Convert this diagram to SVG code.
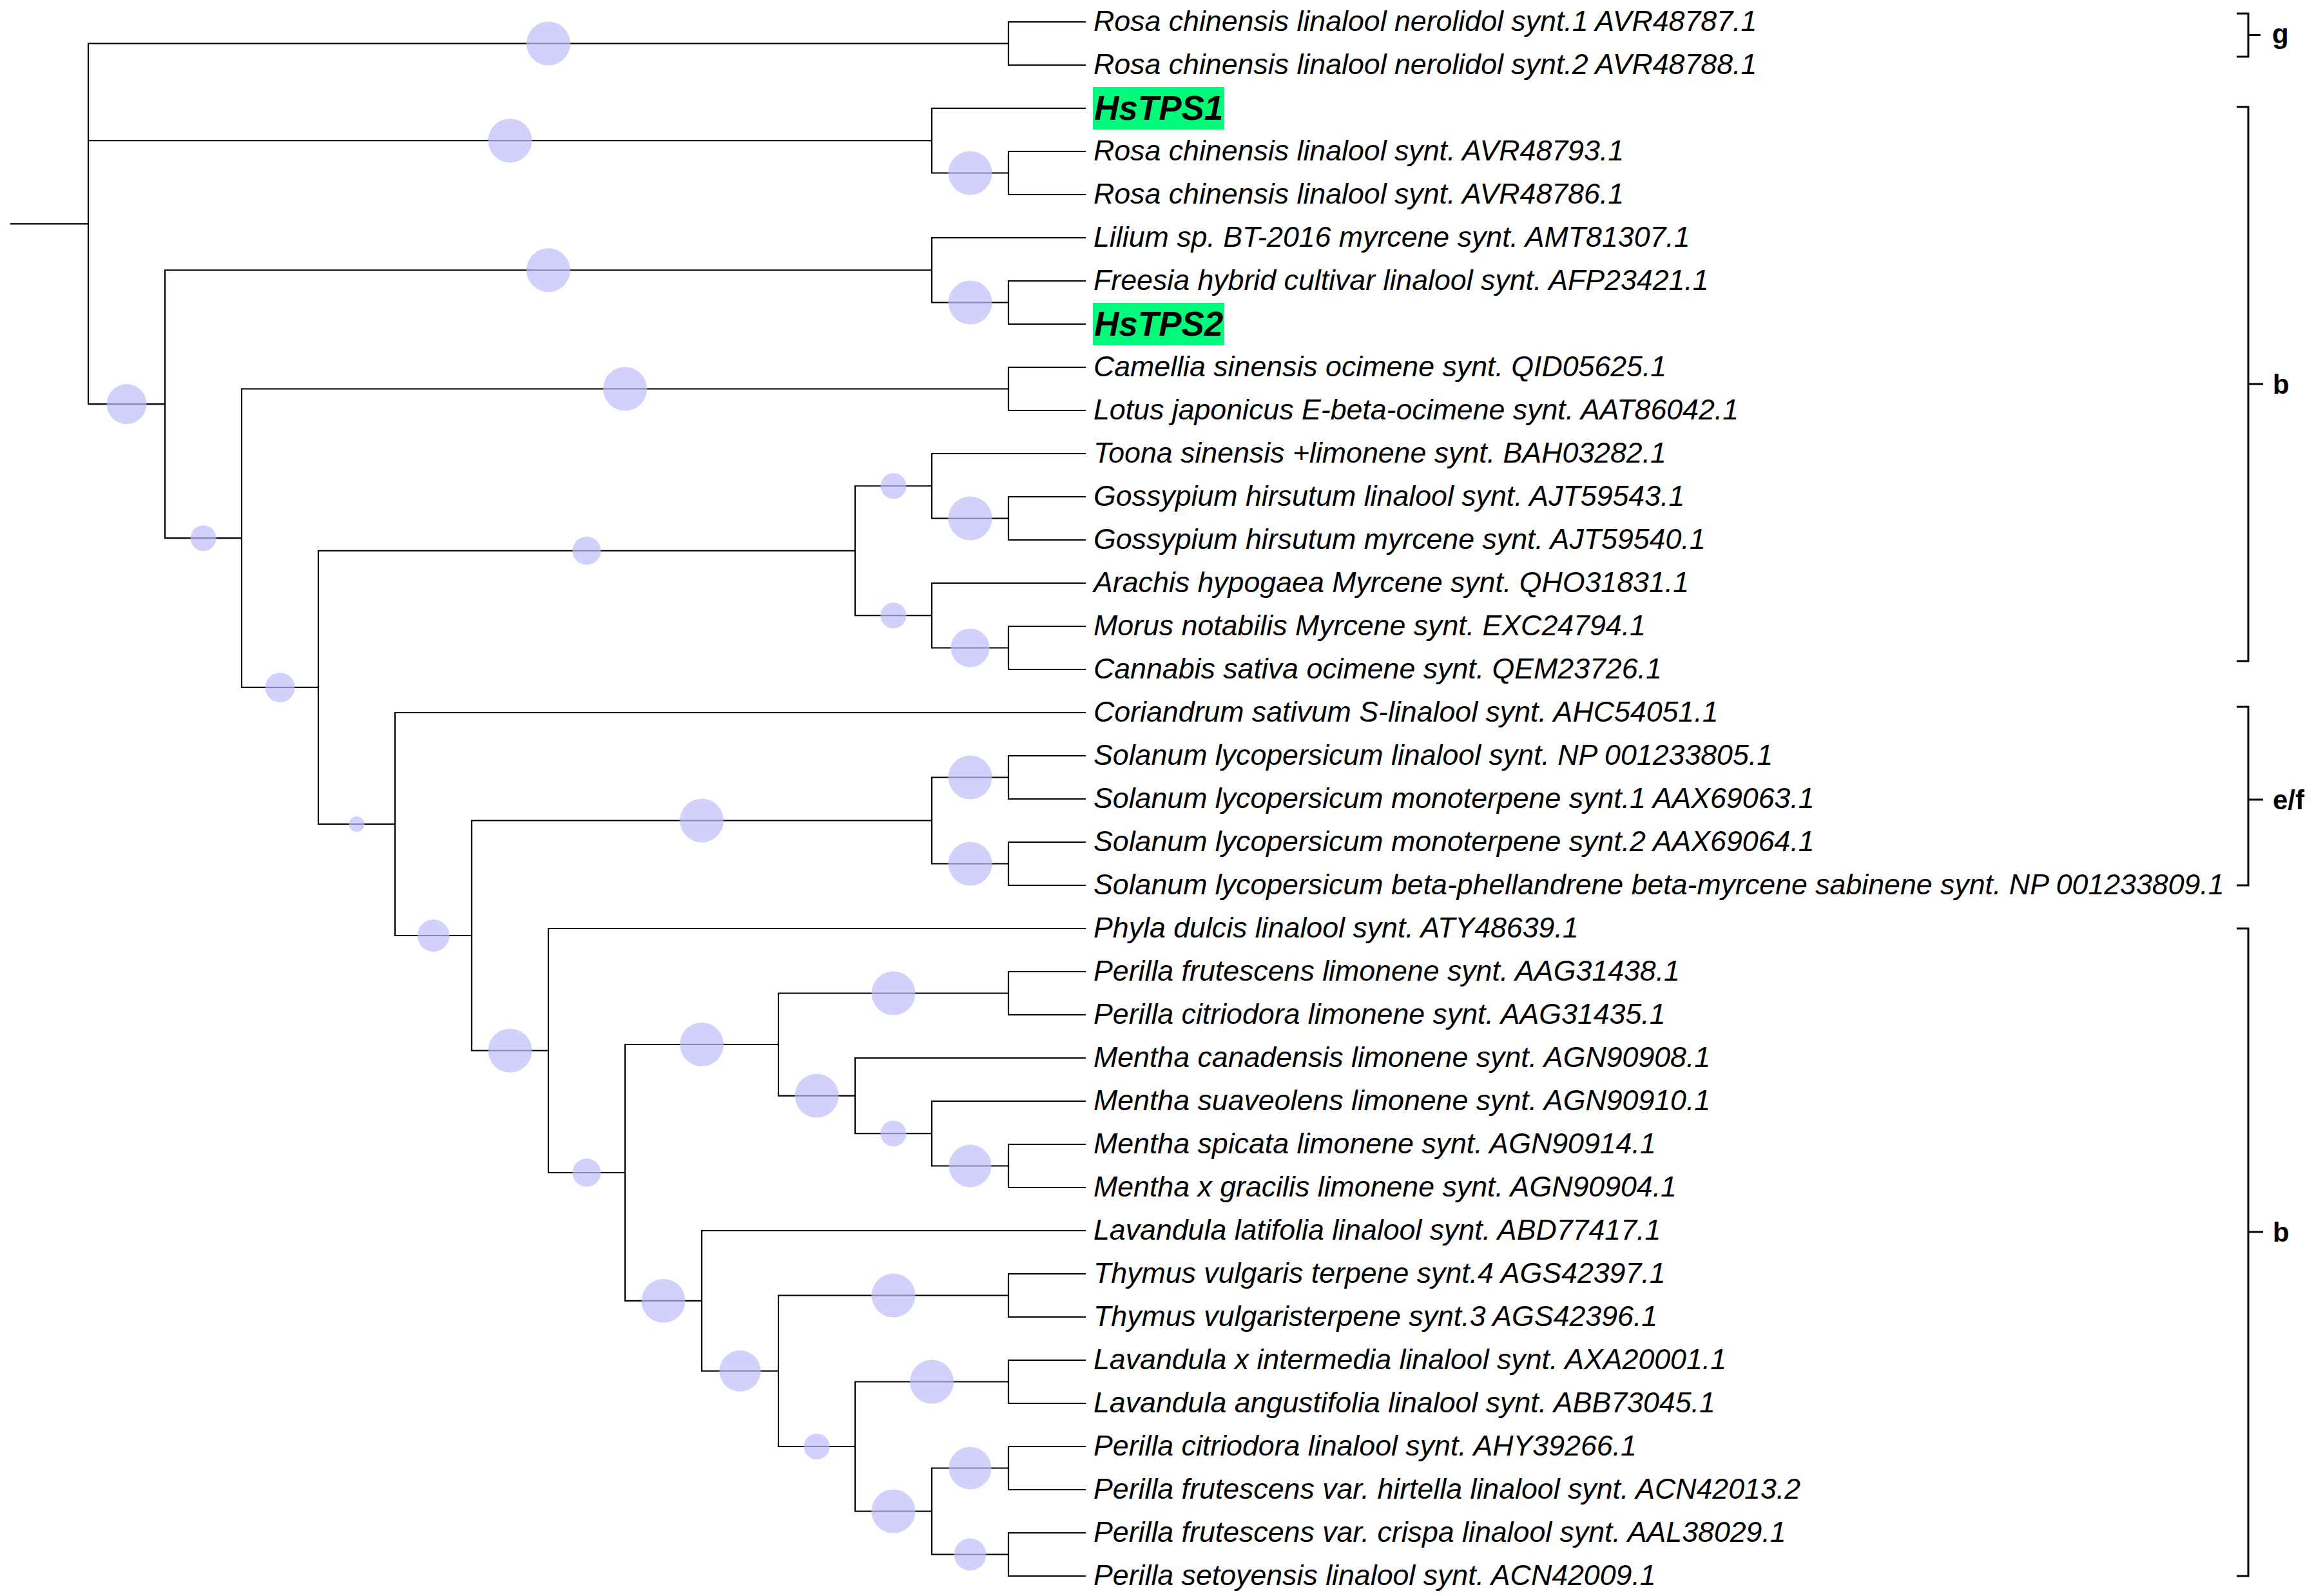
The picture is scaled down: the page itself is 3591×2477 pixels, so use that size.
<svg xmlns="http://www.w3.org/2000/svg" width="3591" height="2477" viewBox="0 0 3591 2477">
<style>
.br{fill:none;stroke:#000;stroke-width:2.2;stroke-linecap:square}
.bp{fill:#bebefa;fill-opacity:0.7;stroke:none}
.tl{font-family:"Liberation Sans",Arial,sans-serif;font-style:italic;font-size:44.7px;fill:#000}
.hs{font-family:"Liberation Sans",Arial,sans-serif;font-style:italic;font-weight:bold;font-size:53px;fill:#000}
.hb{fill:#00fa7a}
.ck{fill:none;stroke:#000;stroke-width:3}
.cl{font-family:"Liberation Sans",Arial,sans-serif;font-weight:bold;font-size:42px;fill:#000}
</style>
<rect width="3591" height="2477" fill="#fff"/>
<g id="connectors">
<path class="br" d="M17 347.35H137M137 67.5V627.2M137 67.5H1565M137 218.25H1446M137 627.2H256
M1565 34V101M1565 34H1684M1565 101H1684
M1446 168V268.5M1446 168H1684M1446 268.5H1565
M1565 235V302M1565 235H1684M1565 302H1684
M256 419.25V835.2M256 419.25H1446M256 835.2H375
M1446 369V469.5M1446 369H1684M1446 469.5H1565
M1565 436V503M1565 436H1684M1565 503H1684
M375 603.5V1066.9M375 603.5H1565M375 1066.9H494
M1565 570V637M1565 570H1684M1565 637H1684
M494 854.75V1279M494 854.75H1327M494 1279H613
M1327 754.25V955.25M1327 754.25H1446M1327 955.25H1446
M1446 704V804.5M1446 704H1684M1446 804.5H1565
M1565 771V838M1565 771H1684M1565 838H1684
M1446 905V1005.5M1446 905H1684M1446 1005.5H1565
M1565 972V1039M1565 972H1684M1565 1039H1684
M613 1106V1452M613 1106H1684M613 1452H732
M732 1273.5V1630.5M732 1273.5H1446M732 1630.5H851
M1446 1206.5V1340.5M1446 1206.5H1565M1446 1340.5H1565
M1565 1173V1240M1565 1173H1684M1565 1240H1684
M1565 1307V1374M1565 1307H1684M1565 1374H1684
M851 1441V1820M851 1441H1684M851 1820H970
M970 1621V2018.9M970 1621H1208M970 2018.9H1089
M1208 1541.5V1700.6M1208 1541.5H1565M1208 1700.6H1327
M1565 1508V1575M1565 1508H1684M1565 1575H1684
M1327 1642V1759.25M1327 1642H1684M1327 1759.25H1446
M1446 1709V1809.5M1446 1709H1684M1446 1809.5H1565
M1565 1776V1843M1565 1776H1684M1565 1843H1684
M1089 1910V2127.75M1089 1910H1684M1089 2127.75H1208
M1208 2010.5V2245M1208 2010.5H1565M1208 2245H1327
M1565 1977V2044M1565 1977H1684M1565 2044H1684
M1327 2144.5V2345.5M1327 2144.5H1565M1327 2345.5H1446
M1565 2111V2178M1565 2111H1684M1565 2178H1684
M1446 2278.5V2412.5M1446 2278.5H1565M1446 2412.5H1565
M1565 2245V2312M1565 2245H1684M1565 2312H1684
M1565 2379V2446M1565 2379H1684M1565 2446H1684"/>
</g>
<g id="node-points">
<g id="node-A"><circle class="bp" cx="851" cy="67.5" r="34"/></g>
<g id="node-B"><circle class="bp" cx="791.5" cy="218.25" r="34"/></g>
<g id="node-B34"><circle class="bp" cx="1505.5" cy="268.5" r="34"/></g>
<g id="node-C"><circle class="bp" cx="196.5" cy="627.2" r="31"/></g>
<g id="node-D"><circle class="bp" cx="851" cy="419.25" r="34"/></g>
<g id="node-D67"><circle class="bp" cx="1505.5" cy="469.5" r="34"/></g>
<g id="node-E"><circle class="bp" cx="315.5" cy="835.2" r="20"/></g>
<g id="node-F"><circle class="bp" cx="970" cy="603.5" r="34"/></g>
<g id="node-G"><circle class="bp" cx="434.5" cy="1066.9" r="23"/></g>
<g id="node-H"><circle class="bp" cx="910.5" cy="854.75" r="22"/></g>
<g id="node-H1"><circle class="bp" cx="1386.5" cy="754.25" r="20"/></g>
<g id="node-H1b"><circle class="bp" cx="1505.5" cy="804.5" r="34"/></g>
<g id="node-H2"><circle class="bp" cx="1386.5" cy="955.25" r="20"/></g>
<g id="node-H2b"><circle class="bp" cx="1505.5" cy="1005.5" r="30"/></g>
<g id="node-I"><circle class="bp" cx="553.5" cy="1279" r="12"/></g>
<g id="node-J"><circle class="bp" cx="672.5" cy="1452" r="25"/></g>
<g id="node-K"><circle class="bp" cx="1089" cy="1273.5" r="34"/></g>
<g id="node-K1"><circle class="bp" cx="1505.5" cy="1206.5" r="34"/></g>
<g id="node-K2"><circle class="bp" cx="1505.5" cy="1340.5" r="34"/></g>
<g id="node-L"><circle class="bp" cx="791.5" cy="1630.5" r="34"/></g>
<g id="node-M"><circle class="bp" cx="910.5" cy="1820" r="22"/></g>
<g id="node-N"><circle class="bp" cx="1089" cy="1621" r="34"/></g>
<g id="node-N1"><circle class="bp" cx="1386.5" cy="1541.5" r="34"/></g>
<g id="node-N2"><circle class="bp" cx="1267.5" cy="1700.6" r="34"/></g>
<g id="node-N3"><circle class="bp" cx="1386.5" cy="1759.25" r="20"/></g>
<g id="node-N4"><circle class="bp" cx="1505.5" cy="1809.5" r="33"/></g>
<g id="node-O"><circle class="bp" cx="1029.5" cy="2018.9" r="34"/></g>
<g id="node-P"><circle class="bp" cx="1148.5" cy="2127.75" r="32"/></g>
<g id="node-P1"><circle class="bp" cx="1386.5" cy="2010.5" r="34"/></g>
<g id="node-Q"><circle class="bp" cx="1267.5" cy="2245" r="20"/></g>
<g id="node-Q1"><circle class="bp" cx="1446" cy="2144.5" r="34"/></g>
<g id="node-R"><circle class="bp" cx="1386.5" cy="2345.5" r="34"/></g>
<g id="node-R1"><circle class="bp" cx="1505.5" cy="2278.5" r="33"/></g>
<g id="node-R2"><circle class="bp" cx="1505.5" cy="2412.5" r="25"/></g>
</g>
<g id="tips">
<g id="tip-0"><text class="tl" x="1697" y="48">Rosa chinensis linalool nerolidol synt.1 AVR48787.1</text></g>
<g id="tip-1"><text class="tl" x="1697" y="115">Rosa chinensis linalool nerolidol synt.2 AVR48788.1</text></g>
<g id="tip-2"><rect class="hb" x="1696" y="135" width="204" height="66"/><text class="hs" x="1698" y="186">HsTPS1</text></g>
<g id="tip-3"><text class="tl" x="1697" y="249">Rosa chinensis linalool synt. AVR48793.1</text></g>
<g id="tip-4"><text class="tl" x="1697" y="316">Rosa chinensis linalool synt. AVR48786.1</text></g>
<g id="tip-5"><text class="tl" x="1697" y="383">Lilium sp. BT-2016 myrcene synt. AMT81307.1</text></g>
<g id="tip-6"><text class="tl" x="1697" y="450">Freesia hybrid cultivar linalool synt. AFP23421.1</text></g>
<g id="tip-7"><rect class="hb" x="1696" y="470" width="204" height="66"/><text class="hs" x="1698" y="521">HsTPS2</text></g>
<g id="tip-8"><text class="tl" x="1697" y="584">Camellia sinensis ocimene synt. QID05625.1</text></g>
<g id="tip-9"><text class="tl" x="1697" y="651">Lotus japonicus E-beta-ocimene synt. AAT86042.1</text></g>
<g id="tip-10"><text class="tl" x="1697" y="718">Toona sinensis +limonene synt. BAH03282.1</text></g>
<g id="tip-11"><text class="tl" x="1697" y="785">Gossypium hirsutum linalool synt. AJT59543.1</text></g>
<g id="tip-12"><text class="tl" x="1697" y="852">Gossypium hirsutum myrcene synt. AJT59540.1</text></g>
<g id="tip-13"><text class="tl" x="1697" y="919">Arachis hypogaea Myrcene synt. QHO31831.1</text></g>
<g id="tip-14"><text class="tl" x="1697" y="986">Morus notabilis Myrcene synt. EXC24794.1</text></g>
<g id="tip-15"><text class="tl" x="1697" y="1053">Cannabis sativa ocimene synt. QEM23726.1</text></g>
<g id="tip-16"><text class="tl" x="1697" y="1120">Coriandrum sativum S-linalool synt. AHC54051.1</text></g>
<g id="tip-17"><text class="tl" x="1697" y="1187">Solanum lycopersicum linalool synt. NP 001233805.1</text></g>
<g id="tip-18"><text class="tl" x="1697" y="1254">Solanum lycopersicum monoterpene synt.1 AAX69063.1</text></g>
<g id="tip-19"><text class="tl" x="1697" y="1321">Solanum lycopersicum monoterpene synt.2 AAX69064.1</text></g>
<g id="tip-20"><text class="tl" x="1697" y="1388">Solanum lycopersicum beta-phellandrene beta-myrcene sabinene synt. NP 001233809.1</text></g>
<g id="tip-21"><text class="tl" x="1697" y="1455">Phyla dulcis linalool synt. ATY48639.1</text></g>
<g id="tip-22"><text class="tl" x="1697" y="1522">Perilla frutescens limonene synt. AAG31438.1</text></g>
<g id="tip-23"><text class="tl" x="1697" y="1589">Perilla citriodora limonene synt. AAG31435.1</text></g>
<g id="tip-24"><text class="tl" x="1697" y="1656">Mentha canadensis limonene synt. AGN90908.1</text></g>
<g id="tip-25"><text class="tl" x="1697" y="1723">Mentha suaveolens limonene synt. AGN90910.1</text></g>
<g id="tip-26"><text class="tl" x="1697" y="1790">Mentha spicata limonene synt. AGN90914.1</text></g>
<g id="tip-27"><text class="tl" x="1697" y="1857">Mentha x gracilis limonene synt. AGN90904.1</text></g>
<g id="tip-28"><text class="tl" x="1697" y="1924">Lavandula latifolia linalool synt. ABD77417.1</text></g>
<g id="tip-29"><text class="tl" x="1697" y="1991">Thymus vulgaris terpene synt.4 AGS42397.1</text></g>
<g id="tip-30"><text class="tl" x="1697" y="2058">Thymus vulgaristerpene synt.3 AGS42396.1</text></g>
<g id="tip-31"><text class="tl" x="1697" y="2125">Lavandula x intermedia linalool synt. AXA20001.1</text></g>
<g id="tip-32"><text class="tl" x="1697" y="2192">Lavandula angustifolia linalool synt. ABB73045.1</text></g>
<g id="tip-33"><text class="tl" x="1697" y="2259">Perilla citriodora linalool synt. AHY39266.1</text></g>
<g id="tip-34"><text class="tl" x="1697" y="2326">Perilla frutescens var. hirtella linalool synt. ACN42013.2</text></g>
<g id="tip-35"><text class="tl" x="1697" y="2393">Perilla frutescens var. crispa linalool synt. AAL38029.1</text></g>
<g id="tip-36"><text class="tl" x="1697" y="2460">Perilla setoyensis linalool synt. ACN42009.1</text></g>
</g>
<g id="clade-g"><path class="ck" d="M3471 21H3489V88H3471M3489 54.5H3508"/><text class="cl" x="3526" y="67">g</text></g>
<g id="clade-b1"><path class="ck" d="M3471 166H3489V1026H3471M3489 596H3512"/><text class="cl" x="3527" y="611">b</text></g>
<g id="clade-ef"><path class="ck" d="M3471 1097H3489V1374H3471M3489 1241H3512"/><text class="cl" x="3527" y="1256">e/f</text></g>
<g id="clade-b2"><path class="ck" d="M3471 1441H3489V2446H3471M3489 1912H3512"/><text class="cl" x="3527" y="1927">b</text></g>
</svg>
